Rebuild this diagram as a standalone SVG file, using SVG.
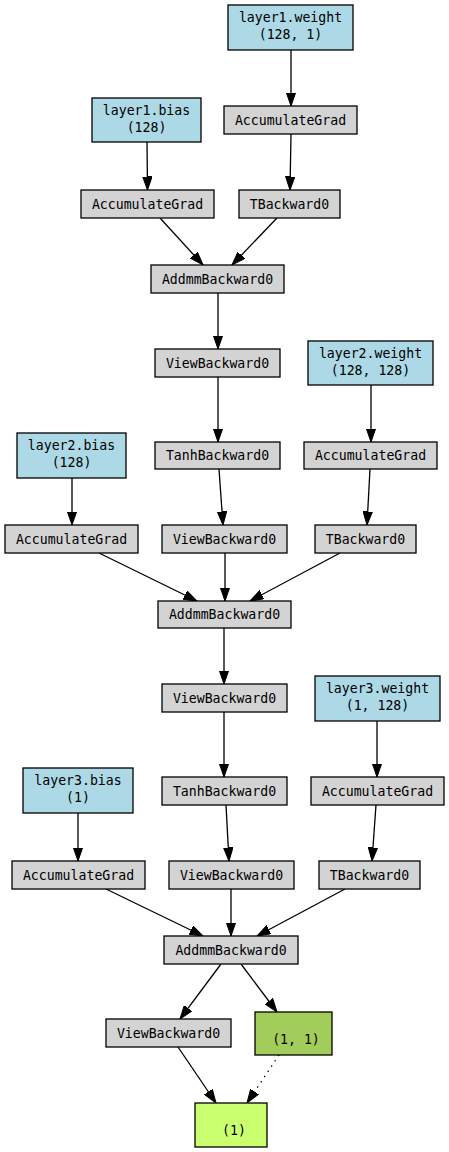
<svg xmlns="http://www.w3.org/2000/svg" width="449" height="1152" viewBox="0 0 449 1152">
<style>
text{font-family:"DejaVu Sans Mono","Liberation Mono",monospace;font-size:13.2px;fill:#000;text-anchor:middle}
.p{fill:#add8e6;stroke:#000;stroke-width:1.3}
.g{fill:#d3d3d3;stroke:#000;stroke-width:1.3}
.o1{fill:#a2cd5a;stroke:#000;stroke-width:1.3}
.o2{fill:#caff70;stroke:#000;stroke-width:1.3}
.e{stroke:#000;stroke-width:1.3;fill:none;marker-end:url(#ah)}
.d{stroke-dasharray:1.3,5}
</style>
<defs>
<marker id="ah" markerUnits="userSpaceOnUse" markerWidth="14" markerHeight="10" viewBox="0 0 14 10" refX="13.5" refY="5" orient="auto">
<path d="M0,0.3 L13.5,5 L0,9.7 z" fill="#000" stroke="#000" stroke-width="1"/>
</marker>
</defs>
<rect width="449" height="1152" fill="#fff"/>
<g id="connectors">
<line class="e" x1="291" y1="50" x2="291" y2="106"/>
<line class="e" x1="147" y1="142" x2="147.5" y2="190"/>
<line class="e" x1="291" y1="134" x2="290" y2="190"/>
<line class="e" x1="160" y1="218" x2="203" y2="265"/>
<line class="e" x1="277" y1="218" x2="232" y2="265"/>
<line class="e" x1="218" y1="293" x2="218" y2="349"/>
<line class="e" x1="218" y1="377" x2="218" y2="442"/>
<line class="e" x1="371" y1="385" x2="371" y2="442"/>
<line class="e" x1="72" y1="478" x2="72" y2="525"/>
<line class="e" x1="219" y1="469" x2="223" y2="525"/>
<line class="e" x1="370" y1="469" x2="367" y2="525"/>
<line class="e" x1="99" y1="553" x2="197" y2="601"/>
<line class="e" x1="225" y1="553" x2="225" y2="601"/>
<line class="e" x1="340" y1="553" x2="250" y2="601"/>
<line class="e" x1="224" y1="628" x2="224" y2="684"/>
<line class="e" x1="224" y1="712" x2="224" y2="777"/>
<line class="e" x1="377" y1="721" x2="377" y2="777"/>
<line class="e" x1="78" y1="813" x2="78" y2="861"/>
<line class="e" x1="226" y1="805" x2="229" y2="861"/>
<line class="e" x1="376" y1="805" x2="372" y2="861"/>
<line class="e" x1="106" y1="889" x2="203" y2="936"/>
<line class="e" x1="231" y1="889" x2="231" y2="936"/>
<line class="e" x1="345" y1="889" x2="257" y2="936"/>
<line class="e" x1="221" y1="964" x2="180" y2="1019"/>
<line class="e" x1="241" y1="964" x2="277" y2="1012"/>
<line class="e" x1="178" y1="1047" x2="216" y2="1103"/>
<line class="e d" x1="279" y1="1055" x2="247" y2="1103"/>
</g>
<g id="layer1_weight"><rect class="p" x="228" y="5" width="125" height="45"/><text x="290.5" y="22">layer1.weight</text><text x="290.5" y="39">(128, 1)</text></g>
<g id="ag_w1"><rect class="g" x="224" y="106" width="133" height="28"/><text x="290.5" y="124.5">AccumulateGrad</text></g>
<g id="layer1_bias"><rect class="p" x="92" y="98" width="109" height="44"/><text x="146.5" y="115">layer1.bias</text><text x="146.5" y="132">(128)</text></g>
<g id="ag_b1"><rect class="g" x="81" y="190" width="133" height="28"/><text x="147.5" y="208.5">AccumulateGrad</text></g>
<g id="t1"><rect class="g" x="239" y="190" width="101" height="28"/><text x="289.5" y="208.5">TBackward0</text></g>
<g id="addmm1"><rect class="g" x="151" y="265" width="133" height="28"/><text x="217.5" y="283.5">AddmmBackward0</text></g>
<g id="view1"><rect class="g" x="155" y="349" width="125" height="28"/><text x="217.5" y="367.5">ViewBackward0</text></g>
<g id="layer2_weight"><rect class="p" x="308" y="341" width="125" height="44"/><text x="370.5" y="357.5">layer2.weight</text><text x="370.5" y="374.5">(128, 128)</text></g>
<g id="tanh1"><rect class="g" x="155" y="442" width="125" height="27"/><text x="217.5" y="460">TanhBackward0</text></g>
<g id="ag_w2"><rect class="g" x="304" y="442" width="133" height="27"/><text x="370.5" y="460">AccumulateGrad</text></g>
<g id="layer2_bias"><rect class="p" x="17" y="433" width="109" height="45"/><text x="71.5" y="450">layer2.bias</text><text x="71.5" y="467">(128)</text></g>
<g id="ag_b2"><rect class="g" x="5" y="525" width="133" height="28"/><text x="71.5" y="543.5">AccumulateGrad</text></g>
<g id="view2"><rect class="g" x="162" y="525" width="125" height="28"/><text x="224.5" y="543.5">ViewBackward0</text></g>
<g id="t2"><rect class="g" x="315" y="525" width="101" height="28"/><text x="365.5" y="543.5">TBackward0</text></g>
<g id="addmm2"><rect class="g" x="158" y="601" width="133" height="27"/><text x="224.5" y="619">AddmmBackward0</text></g>
<g id="view3"><rect class="g" x="162" y="684" width="125" height="28"/><text x="224.5" y="702.5">ViewBackward0</text></g>
<g id="layer3_weight"><rect class="p" x="315" y="676" width="125" height="45"/><text x="377.5" y="693">layer3.weight</text><text x="377.5" y="710">(1, 128)</text></g>
<g id="tanh2"><rect class="g" x="162" y="777" width="125" height="28"/><text x="224.5" y="795.5">TanhBackward0</text></g>
<g id="ag_w3"><rect class="g" x="311" y="777" width="133" height="28"/><text x="377.5" y="795.5">AccumulateGrad</text></g>
<g id="layer3_bias"><rect class="p" x="23" y="768" width="110" height="45"/><text x="78" y="785">layer3.bias</text><text x="78" y="802">(1)</text></g>
<g id="ag_b3"><rect class="g" x="12" y="861" width="133" height="28"/><text x="78.5" y="879.5">AccumulateGrad</text></g>
<g id="view4"><rect class="g" x="169" y="861" width="125" height="28"/><text x="231.5" y="879.5">ViewBackward0</text></g>
<g id="t3"><rect class="g" x="319" y="861" width="101" height="28"/><text x="369.5" y="879.5">TBackward0</text></g>
<g id="addmm3"><rect class="g" x="164" y="936" width="134" height="28"/><text x="231" y="954.5">AddmmBackward0</text></g>
<g id="view5"><rect class="g" x="106" y="1019" width="125" height="28"/><text x="168.5" y="1037.5">ViewBackward0</text></g>
<g id="out_1_1"><rect class="o1" x="255" y="1012" width="77" height="43"/><text x="296" y="1043.5">(1, 1)</text></g>
<g id="out_1"><rect class="o2" x="195" y="1103" width="72" height="44"/><text x="234" y="1135">(1)</text></g>
</svg>
